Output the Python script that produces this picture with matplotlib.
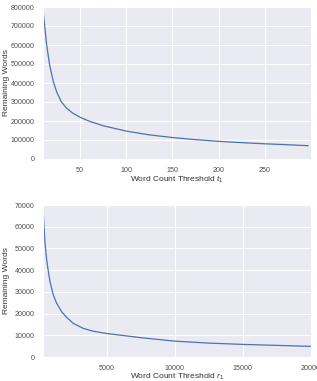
import matplotlib
matplotlib.use("Agg")
import matplotlib.pyplot as plt
import seaborn as sns

sns.set_style("darkgrid")
plt.rcParams["font.family"] = ["Liberation Sans", "DejaVu Sans"]
plt.rcParams["mathtext.fontset"] = "custom"
plt.rcParams["mathtext.it"] = "Liberation Sans:italic"
plt.rcParams["mathtext.rm"] = "Liberation Sans"

# top panel: threshold t1 vs remaining words
t1_thresholds = [10, 12, 14, 17, 21, 25, 30, 35, 42, 50, 60, 75, 100, 125,
                 150, 175, 200, 225, 250, 275, 297]
t1_remaining = [786000, 690000, 600000, 500000, 410000, 350000, 300000,
                270000, 242000, 220000, 199000, 175000, 147000, 127000,
                113000, 102000, 93000, 86000, 80000, 75000, 70000]

# bottom panel: threshold r1 vs remaining words
r1_thresholds = [300, 373, 446, 568, 690, 811, 1055, 1300, 1660, 2030, 2520,
                 3250, 3970, 5000, 7500, 10000, 12500, 15000, 17500, 20000]
r1_remaining = [70000, 60400, 52600, 44900, 39500, 34800, 28600, 24800,
                20900, 18300, 15500, 13200, 11900, 10800, 8900, 7300, 6400,
                5800, 5350, 4900]

fig = plt.figure(figsize=(3.17, 3.81), dpi=100)
W, H = 317.0, 381.0

ax1 = fig.add_axes([43 / W, 1 - 159 / H, 268 / W, 152 / H])
ax2 = fig.add_axes([43 / W, 1 - 357 / H, 268 / W, 152 / H])

line_color = "#4c72b0"
tick_fs = 5.1
label_fs = 6.0

ax1.plot(t1_thresholds, t1_remaining, color=line_color, lw=0.9)
ax1.set_xlim(10, 300)
ax1.set_ylim(0, 800000)
ax1.set_xticks([50, 100, 150, 200, 250])
ax1.set_yticks(range(0, 800001, 100000))
ax1.set_xlabel("Word Count Threshold $t_1$", fontsize=label_fs)
ax1.set_ylabel("Remaining Words", fontsize=label_fs)

ax2.plot(r1_thresholds, r1_remaining, color=line_color, lw=0.9)
ax2.set_xlim(300, 20000)
ax2.set_ylim(0, 70000)
ax2.set_xticks([5000, 10000, 15000, 20000])
ax2.set_yticks(range(0, 70001, 10000))
ax2.set_xlabel("Word Count Threshold $r_1$", fontsize=label_fs)
ax2.set_ylabel("Remaining Words", fontsize=label_fs)

for ax in (ax1, ax2):
    ax.tick_params(labelsize=tick_fs, pad=2.5, colors=".3")
    ax.xaxis.label.set_color(".2")
    ax.yaxis.label.set_color(".2")
    # place axis labels where the reference has them
    ax.yaxis.set_label_coords(-0.125, 0.5)
ax1.xaxis.set_label_coords(0.5, -0.105)
ax2.xaxis.set_label_coords(0.5, -0.1)

fig.savefig("out.png", dpi=100)
